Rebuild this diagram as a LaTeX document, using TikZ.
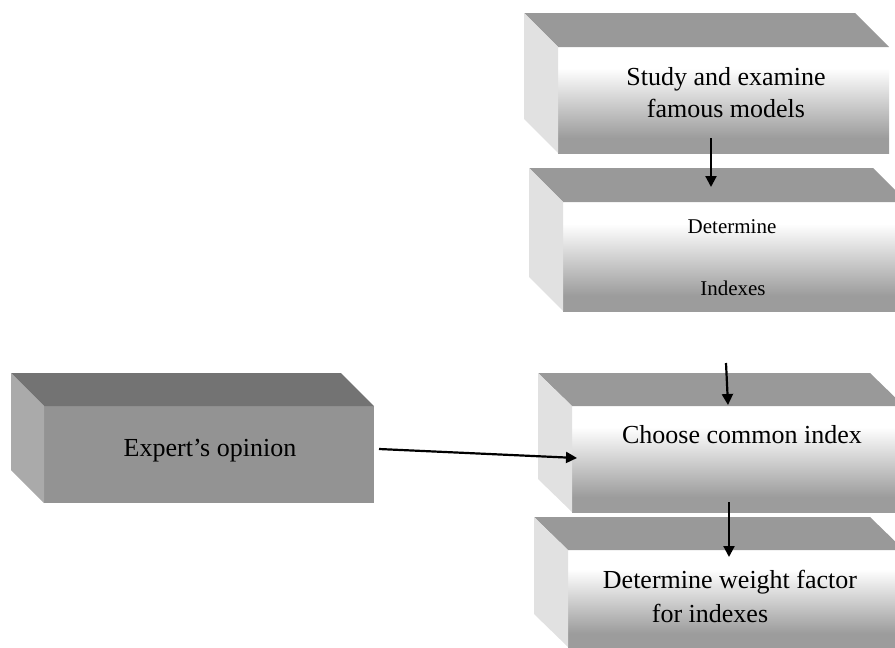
\documentclass[tikz,border=0pt]{standalone}
\usepackage{fontspec}
\setmainfont{Liberation Serif}
\usetikzlibrary{arrows.meta,calc}
\definecolor{topgray}{HTML}{999999}
\definecolor{sidegray}{HTML}{E1E1E1}
\definecolor{frontlow}{HTML}{9C9C9C}
\definecolor{exptop}{HTML}{737373}
\definecolor{expfront}{HTML}{939393}
\definecolor{expside}{HTML}{AAAAAA}
\pgfdeclareverticalshading{frontfade}{100bp}{color(0bp)=(frontlow); color(32bp)=(frontlow); color(65bp)=(white); color(100bp)=(white)}
\begin{document}
\begin{tikzpicture}[x=1pt,y=-1pt,
	front/.style={inner sep=0pt, outer sep=0pt, shading=frontfade},
	topface/.style={fill=topgray},
	sideface/.style={fill=sidegray},
	big/.style={font=\fontsize{26}{30}\selectfont, anchor=base, inner sep=0pt},
	small/.style={font=\fontsize{21}{25}\selectfont, anchor=base, inner sep=0pt},
	arr/.style={line width=2.2pt, -{Triangle[length=11pt,width=11pt]}}]
		\clip (0,0) rectangle (895,648);
		\node[front, minimum width=331pt, minimum height=106pt] (study) at (723.5,100) {};
		\node[front, minimum width=344pt, minimum height=109pt] (indexes) at (735,256.5) {};
		\node[front, minimum width=332pt, minimum height=106pt] (choose) at (738,459) {};
		\node[front, minimum width=336pt, minimum height=97pt] (weight) at (736,598.5) {};
		\node[inner sep=0pt, outer sep=0pt, fill=expfront, minimum width=330pt, minimum height=97pt] (expert) at (209,454.5) {};
		\fill[topface] (study.north west) -- ++(-34,-34) -- ($(study.north east)+(-34,-34)$) -- (study.north east) -- cycle;
		\fill[sideface] (study.north west) -- ++(-34,-34) -- ($(study.south west)+(-34,-34)$) -- (study.south west) -- cycle;
		\fill[topface] (indexes.north west) -- ++(-34,-34) -- ($(indexes.north east)+(-34,-34)$) -- (indexes.north east) -- cycle;
		\fill[sideface] (indexes.north west) -- ++(-34,-34) -- ($(indexes.south west)+(-34,-34)$) -- (indexes.south west) -- cycle;
		\fill[topface] (choose.north west) -- ++(-34,-33) -- ($(choose.north east)+(-34,-33)$) -- (choose.north east) -- cycle;
		\fill[sideface] (choose.north west) -- ++(-34,-33) -- ($(choose.south west)+(-34,-33)$) -- (choose.south west) -- cycle;
		\fill[topface] (weight.north west) -- ++(-34,-33) -- ($(weight.north east)+(-34,-33)$) -- (weight.north east) -- cycle;
		\fill[sideface] (weight.north west) -- ++(-34,-33) -- ($(weight.south west)+(-34,-33)$) -- (weight.south west) -- cycle;
		\fill[exptop] (expert.north west) -- ++(-33,-33) -- ($(expert.north east)+(-33,-33)$) -- (expert.north east) -- cycle;
		\fill[expside] (expert.north west) -- ++(-33,-33) -- ($(expert.south west)+(-33,-33)$) -- (expert.south west) -- cycle;
		\node[big] (study-a) at (726,85) {Study and examine};
		\node[big] (study-b) at (726,117) {famous models};
		\node[small] (indexes-a) at (732,233) {Determine};
		\node[small] (indexes-b) at (733,295) {Indexes};
		\node[big] (choose-a) at (742,443) {Choose common index};
		\node[big] (weight-a) at (730,588) {Determine weight factor};
		\node[big] (weight-b) at (710,622) {for indexes};
		\node[big] (expert-a) at (210,456) {Expert’s opinion};
		\coordinate (study-out) at (711,138);
		\coordinate (indexes-in) at (711,187);
		\coordinate (indexes-out) at (726,363);
		\coordinate (choose-in) at (728,405);
		\coordinate (choose-out) at (729,502);
		\coordinate (weight-in) at (729,557);
		\coordinate (expert-out) at (379,449);
		\coordinate (choose-left) at (577,458);
		\draw[arr] (study-out) -- (indexes-in);
		\draw[arr] (indexes-out) -- (choose-in);
		\draw[arr] (choose-out) -- (weight-in);
		\draw[arr] (expert-out) -- (choose-left);
	\end{tikzpicture}
\end{document}
